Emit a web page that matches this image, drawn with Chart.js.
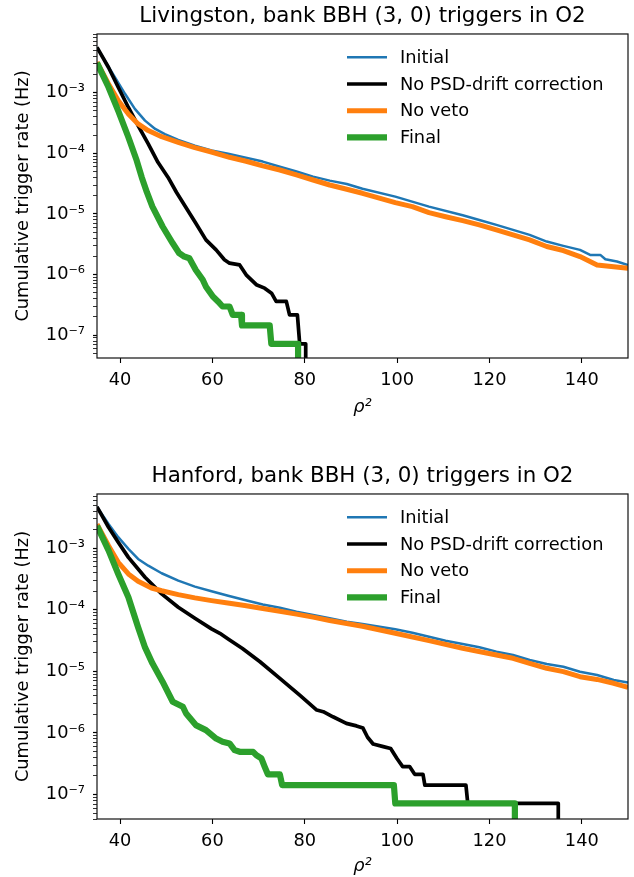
<!DOCTYPE html>
<html>
<head>
<meta charset="utf-8">
<script src="https://cdn.jsdelivr.net/npm/chart.js@4.4.1/dist/chart.umd.min.js"></script>
<style>
  body { margin: 0; background: #fff; }
  canvas { display: block; }
</style>
</head>
<body>
<canvas id="livingston" width="634" height="438"></canvas>
<canvas id="hanford" width="634" height="439"></canvas>
<script>
const seriesLabels = ['Initial', 'No PSD-drift correction', 'No veto', 'Final'];
const seriesColors = ['#1f77b4', '#000000', '#ff7f0e', '#2ca02c'];
const seriesWidths = [2.5, 3.7, 5, 6.2];
const xTicks = [40, 60, 80, 100, 120, 140];
const yMajorTicks = [1e-8, 1e-7, 1e-6, 1e-5, 1e-4, 1e-3];
const yTickLabels = ['10⁻⁸', '10⁻⁷', '10⁻⁶', '10⁻⁵', '10⁻⁴', '10⁻³'];
const xRange = [35, 150];
const livYRange = [4.2e-8, 9.3e-3];
const hanYRange = [4.0e-8, 7.6e-3];
const zeroRate = 1e-9; // rate 0, falls below the axis

// Livingston
const livInitial = [[35, 5.6e-3], [36.7, 3.37e-3], [38.9, 1.79e-3], [41.1, 9.5e-4], [43.2, 5.4e-4], [45.4, 3.46e-4],
  [47.6, 2.52e-4], [49.7, 2.08e-4], [52.6, 1.66e-4], [56.2, 1.34e-4], [59.8, 1.11e-4], [63.4, 9.8e-5], [67, 8.5e-5],
  [70.9, 7.3e-5], [74.6, 6.0e-5], [78.2, 5.0e-5], [81.8, 4.12e-5], [85.4, 3.54e-5], [89.1, 3.12e-5], [92.5, 2.6e-5],
  [99.6, 1.93e-5], [106.9, 1.32e-5], [114.2, 9.5e-6], [117.8, 7.96e-6], [121.5, 6.59e-6], [125.1, 5.45e-6],
  [128.7, 4.51e-6], [132.4, 3.5e-6], [136, 2.97e-6], [139.6, 2.55e-6], [141.8, 2.11e-6], [144, 2.11e-6],
  [145.1, 1.79e-6], [147.6, 1.64e-6], [150, 1.44e-6]];
const livPsd = [[35, 5.6e-3], [37.5, 2.6e-3], [39.6, 1.23e-3], [41.8, 5.7e-4], [43.9, 2.86e-4], [46.1, 1.43e-4],
  [48.2, 7.1e-5], [50.4, 4.0e-5], [52.2, 2.28e-5], [56.4, 7.0e-6], [58.6, 3.73e-6], [60.8, 2.55e-6], [62.6, 1.75e-6],
  [63.7, 1.54e-6], [65.9, 1.44e-6], [67.3, 9.9e-7], [69.5, 6.8e-7], [71.3, 5.96e-7], [72.8, 4.92e-7], [73.8, 3.6e-7],
  [76, 3.6e-7], [76.7, 2.16e-7], [78.4, 2.16e-7], [78.9, 7.2e-8], [80.2, 7.2e-8], [80.2, zeroRate]];
const livVeto = [[35, 3.2e-3], [37.5, 1.39e-3], [39.6, 7.4e-4], [41.8, 4.45e-4], [43.9, 3.05e-4], [46.1, 2.37e-4],
  [49, 1.88e-4], [52.6, 1.52e-4], [56.2, 1.24e-4], [59.8, 1.05e-4], [63.7, 8.6e-5], [67.3, 7.4e-5], [70.9, 6.2e-5],
  [74.6, 5.3e-5], [78.2, 4.4e-5], [81.8, 3.63e-5], [85.4, 3.0e-5], [89.1, 2.55e-5], [92.5, 2.19e-5], [99.6, 1.54e-5],
  [103.3, 1.32e-5], [106.9, 1.05e-5], [110.5, 9.0e-6], [114.2, 7.76e-6], [117.8, 6.59e-6], [121.5, 5.45e-6],
  [125.1, 4.51e-6], [128.7, 3.73e-6], [132.4, 2.9e-6], [136, 2.49e-6], [139.6, 1.98e-6], [143.3, 1.44e-6],
  [146.9, 1.35e-6], [150, 1.27e-6]];
const livFinal = [[35, 3.1e-3], [37.5, 1.23e-3], [39.6, 5.0e-4], [41.8, 1.84e-4], [43.6, 7.6e-5], [44.7, 4.0e-5],
  [45.8, 2.28e-5], [47, 1.32e-5], [49.2, 6.2e-6], [51.4, 3.28e-6], [52.8, 2.25e-6], [53.9, 1.98e-6], [55, 1.86e-6],
  [56.4, 1.19e-6], [57.9, 8.2e-7], [58.6, 6.3e-7], [60.1, 4.33e-7], [61.2, 3.6e-7], [62.2, 2.97e-7], [63.7, 2.97e-7],
  [64.4, 2.16e-7], [66.2, 2.16e-7], [66.4, 1.45e-7], [72.4, 1.45e-7], [72.75, 7.2e-8], [78.55, 7.2e-8],
  [78.55, zeroRate]];

// Hanford
const hanInitial = [[35, 4.7e-3], [37.5, 2.48e-3], [39.6, 1.51e-3], [41.8, 9.75e-4], [43.9, 6.7e-4], [46.1, 5.2e-4],
  [49, 3.92e-4], [52.6, 2.97e-4], [56.2, 2.38e-4], [59.8, 2.0e-4], [63.4, 1.69e-4], [67, 1.44e-4], [70.9, 1.22e-4],
  [74.6, 1.08e-4], [78.2, 9.3e-5], [81.8, 8.2e-5], [85.4, 7.3e-5], [89.1, 6.4e-5], [92.5, 5.9e-5], [99.6, 4.82e-5],
  [103.3, 4.25e-5], [106.9, 3.66e-5], [110.5, 3.15e-5], [114.2, 2.78e-5], [117.8, 2.46e-5], [121.5, 2.09e-5],
  [125.1, 1.84e-5], [128.7, 1.53e-5], [132.4, 1.32e-5], [136, 1.19e-5], [139.6, 9.88e-6], [143.3, 8.72e-6],
  [146.9, 7.23e-6], [150, 6.6e-6]];
const hanPsd = [[35, 4.7e-3], [37.5, 2.19e-3], [39.6, 1.25e-3], [41.8, 7.1e-4], [45.4, 3.38e-4], [49, 1.81e-4],
  [52.6, 1.1e-4], [56.2, 7.3e-5], [59.8, 4.9e-5], [61.6, 4.15e-5], [63.4, 3.35e-5], [66.5, 2.35e-5], [70.3, 1.43e-5],
  [74.6, 7.7e-6], [78.9, 4.1e-6], [82.6, 2.35e-6], [84, 2.21e-6], [86.1, 1.83e-6], [89, 1.43e-6], [91.2, 1.3e-6],
  [92.6, 1.2e-6], [93.6, 8.5e-7], [94.8, 6.6e-7], [97, 6.0e-7], [98.6, 5.6e-7], [100, 3.8e-7], [101.2, 2.84e-7],
  [102.7, 2.84e-7], [103.8, 2.13e-7], [105.6, 2.13e-7], [106, 1.42e-7], [114.9, 1.42e-7], [115.3, 7.15e-8],
  [134.9, 7.15e-8], [134.9, zeroRate]];
const hanVeto = [[35, 2.45e-3], [37.5, 1.1e-3], [39.6, 5.9e-4], [41.8, 3.82e-4], [43.9, 2.9e-4], [46.8, 2.26e-4],
  [49, 2.04e-4], [52.6, 1.76e-4], [56.2, 1.56e-4], [59.8, 1.41e-4], [63.7, 1.28e-4], [67, 1.17e-4], [70.9, 1.05e-4],
  [74.6, 9.5e-5], [78.2, 8.5e-5], [81.8, 7.6e-5], [85.4, 6.7e-5], [89.1, 6.0e-5], [92.5, 5.4e-5], [99.6, 4.15e-5],
  [106.9, 3.15e-5], [114.2, 2.37e-5], [121.5, 1.84e-5], [125.1, 1.63e-5], [128.7, 1.35e-5], [132.4, 1.12e-5],
  [136, 9.9e-6], [139.6, 8.2e-6], [143.3, 7.4e-6], [146.9, 6.4e-6], [150, 5.5e-6]];
const hanFinal = [[35, 2.3e-3], [37.5, 9.2e-4], [39.6, 3.82e-4], [41.8, 1.6e-4], [43.9, 5.2e-5], [45.4, 2.45e-5],
  [47, 1.35e-5], [49.2, 6.79e-6], [51.4, 3.21e-6], [53.6, 2.66e-6], [54.3, 2.07e-6], [56.4, 1.34e-6], [58.6, 1.11e-6],
  [60.8, 8.1e-7], [62.2, 7.2e-7], [63.7, 6.75e-7], [64.8, 5.26e-7], [65.9, 4.94e-7], [68.8, 4.94e-7], [69.5, 4.36e-7],
  [70.6, 3.85e-7], [71.3, 2.84e-7], [72, 2.13e-7], [74.6, 2.13e-7], [75.1, 1.42e-7], [99.3, 1.42e-7],
  [99.6, 7.15e-8], [125.5, 7.15e-8], [125.5, zeroRate]];

const FONT = '"DejaVu Sans", sans-serif';

// box around the axes, drawn over the lines like matplotlib spines
const framePlugin = {
  id: 'frame',
  afterDatasetsDraw(chart) {
    const { ctx, chartArea: a } = chart;
    ctx.save();
    ctx.strokeStyle = '#111';
    ctx.lineWidth = 1.2;
    ctx.strokeRect(a.left, a.top, a.right - a.left, a.bottom - a.top);
    ctx.restore();
  }
};

// legend inside the top right corner, no frame
const legendPlugin = {
  id: 'insideLegend',
  afterDraw(chart) {
    const { ctx, chartArea: a } = chart;
    ctx.save();
    chart.data.datasets.forEach((ds, i) => {
      const y = a.top + 23.3 + i * 26.7;
      ctx.strokeStyle = ds.borderColor;
      ctx.lineWidth = ds.borderWidth;
      ctx.beginPath();
      ctx.moveTo(a.right - 281, y);
      ctx.lineTo(a.right - 241, y);
      ctx.stroke();
      ctx.fillStyle = '#000';
      ctx.font = '17.8px ' + FONT;
      ctx.textBaseline = 'middle';
      ctx.fillText(ds.label, a.right - 228, y + 1);
    });
    ctx.restore();
  }
};

function makeChart(id, title, series, yRange, opts) {
  const datasets = series.map((pts, i) => ({
    label: seriesLabels[i],
    data: pts.map(([x, y]) => ({ x, y })),
    borderColor: seriesColors[i],
    backgroundColor: seriesColors[i],
    borderWidth: seriesWidths[i],
    pointRadius: 0,
    tension: 0,
    borderJoinStyle: 'round',
    clip: 0,
    order: series.length - i
  }));
  return new Chart(document.getElementById(id), {
    type: 'line',
    data: { datasets },
    plugins: [framePlugin, legendPlugin],
    options: {
      responsive: false,
      animation: false,
      events: [],
      layout: { padding: opts.padding },
      plugins: {
        legend: { display: false },
        tooltip: { enabled: false },
        title: {
          display: true, text: title, color: '#000', fullSize: false,
          font: { family: FONT, size: 21.4, weight: 'normal' },
          padding: { top: 4, bottom: 4.3 }
        }
      },
      scales: {
        x: {
          type: 'linear', min: xRange[0], max: xRange[1],
          afterBuildTicks: s => { s.ticks = xTicks.map(v => ({ value: v, major: true })); },
          afterFit: s => { s.height = opts.xHeight; },
          grid: { drawOnChartArea: false, drawTicks: true, tickLength: 5, tickColor: '#000', tickWidth: 1.1 },
          border: { display: false },
          ticks: { color: '#000', font: { family: FONT, size: 17.8 }, padding: 7, maxRotation: 0, autoSkip: false },
          title: { display: true, text: 'ρ²', color: '#000', font: { family: FONT, size: 17.8, style: 'italic' }, padding: { top: 0, bottom: 0 } }
        },
        y: {
          type: 'logarithmic', min: yRange[0], max: yRange[1],
          afterBuildTicks: s => {
            const ticks = [];
            yMajorTicks.forEach(m => {
              for (let k = 1; k <= 9; k++) {
                const v = m * k;
                if (v >= yRange[0] && v <= yRange[1]) ticks.push({ value: v, major: k === 1 });
              }
            });
            s.ticks = ticks;
          },
          afterFit: s => { s.width = 97; },
          grid: {
            drawOnChartArea: false, drawTicks: true, tickLength: 4, tickColor: '#000',
            tickWidth: c => (c.tick && c.tick.major ? 1.2 : 0.8)
          },
          border: { display: false },
          ticks: {
            color: '#000', font: { family: FONT, size: 17.8 }, padding: 8, autoSkip: false,
            callback: v => {
              const i = yMajorTicks.findIndex(m => Math.abs(v / m - 1) < 1e-6);
              return i >= 0 ? yTickLabels[i] : '';
            }
          },
          title: {
            display: true, text: 'Cumulative trigger rate (Hz)', color: '#000',
            font: { family: FONT, size: 17.8 }, padding: { top: 13, bottom: 0 }
          }
        }
      }
    }
  });
}

makeChart('livingston', 'Livingston, bank BBH (3, 0) triggers in O2',
  [livInitial, livPsd, livVeto, livFinal], livYRange,
  { padding: { top: 0, right: 6, bottom: 20, left: 0 }, xHeight: 60 });
makeChart('hanford', 'Hanford, bank BBH (3, 0) triggers in O2',
  [hanInitial, hanPsd, hanVeto, hanFinal], hanYRange,
  { padding: { top: 22, right: 6, bottom: 0, left: 0 }, xHeight: 58 });
</script>
</body>
</html>
